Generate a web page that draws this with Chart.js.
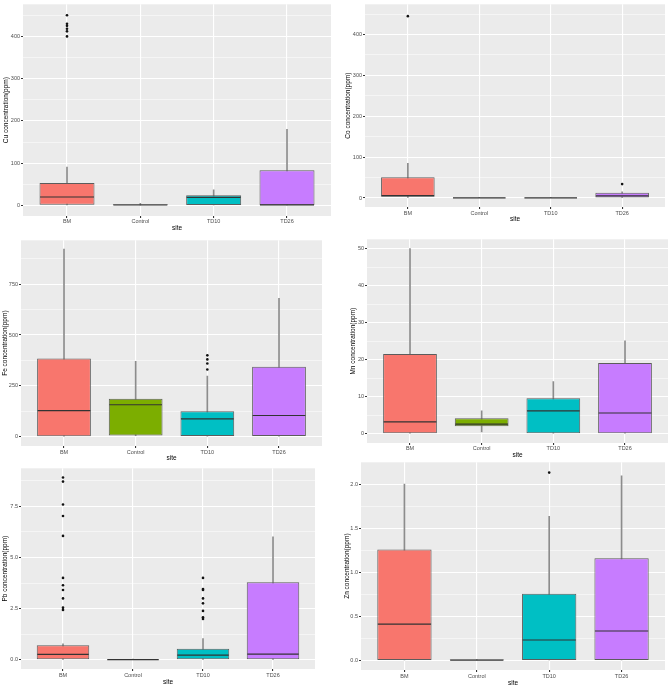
<!DOCTYPE html>
<html>
<head>
<meta charset="utf-8">
<script src="https://cdn.jsdelivr.net/npm/chart.js@4.4.0/dist/chart.umd.min.js"></script>
<style>
body { margin: 0; background: #fff; width: 669px; height: 688px; position: relative; overflow: hidden; }
.p { position: absolute; }
</style>
</head>
<body>
<div class="p" id="b1"><canvas id="c1"></canvas></div>
<div class="p" id="b2"><canvas id="c2"></canvas></div>
<div class="p" id="b3"><canvas id="c3"></canvas></div>
<div class="p" id="b4"><canvas id="c4"></canvas></div>
<div class="p" id="b5"><canvas id="c5"></canvas></div>
<div class="p" id="b6"><canvas id="c6"></canvas></div>
<script>
// sites + ggplot default colours
const sites = ['BM', 'Control', 'TD10', 'TD26'];
const fills = ['#F8766D', '#7CAE00', '#00BFC4', '#C77CFF'];

// Cu
const cuLo = [0, 0, 0, 0];
const cuQ1 = [1.5, 0, 0, 0.5];
const cuMed = [20, 1, 19, 1.5];
const cuQ3 = [53, 3, 24, 83];
const cuHi = [91, 5, 37, 180];
const cuOut = [[450, 430, 425, 418, 412, 400], [], [], []];
const cuTicks = [0, 100, 200, 300, 400];
const cuTickLabels = ['0', '100', '200', '300', '400'];

// Co
const coLo = [0, 0, 0, 0];
const coQ1 = [3, 0, 0, 0];
const coMed = [6, 0.5, 0.5, 5];
const coQ3 = [51, 1, 1, 13];
const coHi = [85, 1.5, 1.5, 15];
const coOut = [[445], [], [], [34]];
const coTicks = [0, 100, 200, 300, 400];
const coTickLabels = ['0', '100', '200', '300', '400'];

// Fe
const feLo = [0, 5, 0, 0];
const feQ1 = [2, 6, 0, 0];
const feMed = [128, 157, 87, 104];
const feQ3 = [384, 186, 125, 344];
const feHi = [923, 371, 298, 680];
const feOut = [[], [], [400, 380, 360, 330], []];
const feTicks = [0, 250, 500, 750];
const feTickLabels = ['0', '250', '500', '750'];

// Mn
const mnLo = [0, 0.5, 0, 0];
const mnQ1 = [0, 2, 0, 0];
const mnMed = [3.2, 2.6, 6.2, 5.6];
const mnQ3 = [21.5, 4.2, 9.6, 19.1];
const mnHi = [50, 6.2, 14.1, 25.1];
const mnOut = [[], [], [], []];
const mnTicks = [0, 10, 20, 30, 40, 50];
const mnTickLabels = ['0', '10', '20', '30', '40', '50'];

// Pb
const pbLo = [0, 0, 0, 0];
const pbQ1 = [0, 0, 0, 0];
const pbMed = [0.27, 0.01, 0.23, 0.28];
const pbQ3 = [0.72, 0.03, 0.54, 3.79];
const pbHi = [0.78, 0.04, 1.04, 6.0];
const pbOut = [[8.9, 8.7, 7.58, 7.02, 6.05, 4.0, 3.64, 3.41, 3.0, 2.55, 2.44], [],
               [4.0, 3.46, 3.41, 3.0, 2.76, 2.39, 2.08, 2.0], []];
const pbTicks = [0, 2.5, 5, 7.5];
const pbTickLabels = ['0.0', '2.5', '5.0', '7.5'];

// Zn
const znLo = [0, 0, 0, 0];
const znQ1 = [0, 0, 0, 0];
const znMed = [0.414, 0.005, 0.233, 0.335];
const znQ3 = [1.258, 0.012, 0.757, 1.16];
const znHi = [2.0, 0.012, 1.634, 2.094];
const znOut = [[], [], [2.13], []];
const znTicks = [0, 0.5, 1, 1.5, 2];
const znTickLabels = ['0.0', '0.5', '1.0', '1.5', '2.0'];

Chart.defaults.font.family = '"Liberation Sans", Arial, sans-serif';
Chart.defaults.animation = false;

const grayBg = {
  id: 'grayBg',
  beforeDraw(chart) {
    const a = chart.chartArea, ctx = chart.ctx;
    ctx.save();
    ctx.fillStyle = '#EBEBEB';
    ctx.fillRect(a.left, a.top, a.right - a.left, a.bottom - a.top);
    ctx.restore();
  }
};

function panel(n, d, lay) {
  const box = document.getElementById('b' + n);
  box.style.left = lay.left + 'px';
  box.style.top = lay.top + 'px';
  box.style.width = lay.w + 'px';
  box.style.height = lay.h + 'px';

  const pts = [];
  d.out.forEach((arr, i) => arr.forEach(v => pts.push({ x: i, y: v })));

  const step = d.ticks[1] - d.ticks[0];
  const minors = [];
  for (let v = d.ticks[0] - step / 2; v <= d.max; v += step) if (v >= d.min) minors.push(v);

  const medLines = {
    id: 'med' + n,
    afterDatasetsDraw(chart) {
      const meta = chart.getDatasetMeta(0);
      const ys = chart.scales.y;
      const ctx = chart.ctx;
      ctx.save();
      ctx.strokeStyle = '#333333';
      ctx.lineWidth = 1.2;
      meta.data.forEach((bar, i) => {
        const y = ys.getPixelForValue(d.med[i]);
        ctx.beginPath();
        ctx.moveTo(bar.x - bar.width / 2 + 0.5, y);
        ctx.lineTo(bar.x + bar.width / 2 - 0.5, y);
        ctx.stroke();
      });
      ctx.restore();
    }
  };

  new Chart(document.getElementById('c' + n), {
    type: 'bar',
    data: {
      datasets: [
        {
          type: 'bar',
          data: sites.map((s, i) => ({ x: i, y: [d.q1[i], d.q3[i]] })),
          backgroundColor: fills,
          borderColor: '#5c5c5c',
          borderWidth: 1,
          borderSkipped: false,
          barPercentage: 0.75,
          categoryPercentage: 1,
          grouped: false,
          order: 1
        },
        {
          type: 'bar',
          data: sites.map((s, i) => ({ x: i, y: [d.lo[i], d.hi[i]] })),
          backgroundColor: '#8c8c8c',
          barThickness: 1,
          grouped: false,
          order: 2
        },
        {
          type: 'scatter',
          data: pts,
          pointRadius: 1.3,
          pointBackgroundColor: '#111',
          pointBorderWidth: 0,
          order: 0
        }
      ]
    },
    options: {
      responsive: true,
      maintainAspectRatio: false,
      devicePixelRatio: 1,
      layout: { padding: { top: lay.padTop, right: lay.padRight, left: 0, bottom: 0 } },
      plugins: { legend: { display: false }, tooltip: { enabled: false } },
      scales: {
        x: {
          type: 'linear',
          min: -0.6,
          max: 3.6,
          offset: false,
          afterBuildTicks: s => { s.ticks = sites.map((t, i) => ({ value: i })); },
          afterFit: s => { s.height = lay.xh; },
          ticks: {
            autoSkip: false, maxRotation: 0, padding: lay.labPad,
            color: '#4D4D4D', font: { size: 5.5 },
            callback: v => sites[v]
          },
          grid: { offset: false, color: '#ffffff', lineWidth: 1.1, tickColor: '#333333', tickLength: 2 },
          border: { display: false },
          title: { display: true, text: 'site', color: '#000', font: { size: 6.5 }, padding: { top: 0, bottom: 0 } }
        },
        y: {
          min: d.min,
          max: d.max,
          afterBuildTicks: s => {
            const t = d.ticks.map(v => ({ value: v, mj: true }))
              .concat(minors.map(v => ({ value: v, mj: false })));
            s.ticks = t.sort((a, b) => a.value - b.value);
          },
          afterFit: s => { s.width = lay.yw; },
          ticks: {
            autoSkip: false, padding: 1,
            color: '#4D4D4D', font: { size: 5.5 },
            callback: (v, i, ticks) => ticks[i].mj ? d.labels[d.ticks.indexOf(v)] : ''
          },
          grid: {
            color: '#ffffff',
            lineWidth: c => (c.tick && c.tick.mj) ? 1.1 : 0.5,
            tickColor: c => (c.tick && c.tick.mj) ? '#333333' : 'rgba(0,0,0,0)',
            tickLength: 2
          },
          border: { display: false },
          title: { display: true, text: d.title, color: '#000', font: { size: 6.5 }, padding: { top: lay.ytPad, bottom: 0 } }
        }
      }
    },
    plugins: [grayBg, medLines]
  });
}

panel(1, { lo: cuLo, q1: cuQ1, med: cuMed, q3: cuQ3, hi: cuHi, out: cuOut, ticks: cuTicks, labels: cuTickLabels,
           min: -25, max: 476, title: 'Cu concentration(ppm)' },
      { left: 0, top: 0, w: 335, h: 232, padTop: 0, padRight: 2, yw: 23, xh: 16, labPad: 0, ytPad: 2.1 });
panel(2, { lo: coLo, q1: coQ1, med: coMed, q3: coQ3, hi: coHi, out: coOut, ticks: coTicks, labels: coTickLabels,
           min: -22, max: 474, title: 'Co concentration(ppm)' },
      { left: 335, top: 0, w: 334, h: 223, padTop: 0, padRight: 1, yw: 30, xh: 16, labPad: 1, ytPad: 9.1 });
panel(3, { lo: feLo, q1: feQ1, med: feMed, q3: feQ3, hi: feHi, out: feOut, ticks: feTicks, labels: feTickLabels,
           min: -46, max: 966, title: 'Fe concentration(ppm)' },
      { left: 0, top: 236, w: 335, h: 226, padTop: 4, padRight: 13, yw: 21, xh: 16, labPad: 1.25, ytPad: 1.1 });
panel(4, { lo: mnLo, q1: mnQ1, med: mnMed, q3: mnQ3, hi: mnHi, out: mnOut, ticks: mnTicks, labels: mnTickLabels,
           min: -2.5, max: 52.5, title: 'Mn concentration(ppm)' },
      { left: 335, top: 235, w: 334, h: 224, padTop: 4, padRight: 1, yw: 32, xh: 16, labPad: 0.25, ytPad: 14.1 });
panel(5, { lo: pbLo, q1: pbQ1, med: pbMed, q3: pbQ3, hi: pbHi, out: pbOut, ticks: pbTicks, labels: pbTickLabels,
           min: -0.445, max: 9.35, title: 'Pb concentration(ppm)' },
      { left: 0, top: 464, w: 335, h: 222, padTop: 4, padRight: 20, yw: 21, xh: 17, labPad: 1.25, ytPad: 1.1 });
panel(6, { lo: znLo, q1: znQ1, med: znMed, q3: znQ3, hi: znHi, out: znOut, ticks: znTicks, labels: znTickLabels,
           min: -0.107, max: 2.247, title: 'Zn concentration(ppm)' },
      { left: 335, top: 458, w: 334, h: 229, padTop: 4, padRight: 1, yw: 26, xh: 17, labPad: 1.25, ytPad: 8.1 });
</script>
</body>
</html>
